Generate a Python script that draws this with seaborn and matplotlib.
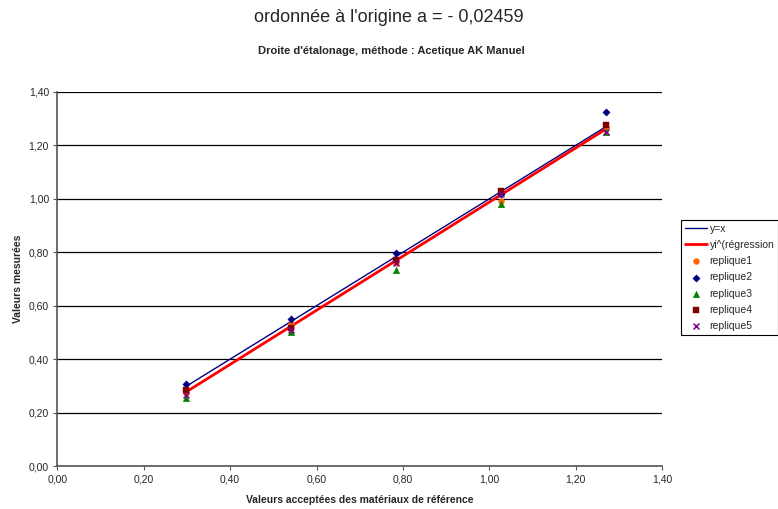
import matplotlib
matplotlib.use("Agg")
import matplotlib.pyplot as plt
import seaborn as sns
import numpy as np
import pandas as pd
from matplotlib.ticker import FuncFormatter, MultipleLocator

# ---- data ----
x_ref = [0.297, 0.540, 0.783, 1.027, 1.270]
replique1 = [0.272, 0.532, 0.761, 0.993, 1.270]
replique2 = [0.306, 0.550, 0.797, 1.020, 1.324]
replique3 = [0.256, 0.500, 0.734, 0.981, 1.249]
replique4 = [0.285, 0.515, 0.772, 1.029, 1.277]
replique5 = [0.266, 0.509, 0.759, 1.017, 1.252]
intercept_a = -0.02459
slope_b = 1.0124
title_text = "ordonnée à l'origine a = - 0,02459"
subtitle_text = "Droite d'étalonage, méthode : Acetique AK Manuel"
xlabel_text = "Valeurs acceptées des matériaux de référence"
ylabel_text = "Valeurs mesurées"

sns.set_theme(style="white")
plt.rcParams['font.family'] = ['Liberation Sans', 'DejaVu Sans']

fig = plt.figure(figsize=(7.78, 5.09), dpi=100)
ax = fig.add_axes([57.4/778, 1-466/509, (662-57.4)/778, (466-92)/509])

xs = np.array(x_ref)
df_lines = pd.DataFrame({"x": xs, "yx": xs, "yreg": slope_b*xs + intercept_a})

sns.lineplot(data=df_lines, x="x", y="yx", ax=ax, color="#000080", lw=1.0, label="y=x", zorder=3)
sns.lineplot(data=df_lines, x="x", y="yreg", ax=ax, color="#FF0000", lw=2.0, label="yi^(régression", zorder=3)

series = [
    ("replique1", replique1, "o", "#FF6600", 18),
    ("replique2", replique2, "D", "#000080", 14),
    ("replique3", replique3, "^", "#008000", 22),
    ("replique4", replique4, "s", "#800000", 20),
]
for name, vals, mk, col, sz in series:
    sns.scatterplot(x=x_ref, y=vals, ax=ax, marker=mk, color=col, s=sz,
                    edgecolor=col, linewidth=0.3, label=name, zorder=4)
sns.scatterplot(x=x_ref, y=replique5, ax=ax, marker="x", color="#800080", s=18,
                linewidth=1.1, label="replique5", zorder=5)

ax.set_xlim(0, 1.4)
ax.set_ylim(0, 1.4)
ax.xaxis.set_major_locator(MultipleLocator(0.2))
ax.yaxis.set_major_locator(MultipleLocator(0.2))
fmt = FuncFormatter(lambda v, p: f"{v:.2f}".replace(".", ","))
ax.xaxis.set_major_formatter(fmt)
ax.yaxis.set_major_formatter(fmt)
ax.yaxis.grid(True, color="black", lw=0.9)
ax.xaxis.grid(False)
ax.set_axisbelow(True)
for s in ["top", "right"]:
    ax.spines[s].set_visible(False)
for s in ["left", "bottom"]:
    ax.spines[s].set_color("#555555")
    ax.spines[s].set_linewidth(1.2)
ax.tick_params(axis="both", which="major", direction="out", length=3, width=0.8,
               color="#555555", labelsize=7.5, bottom=True, left=True, pad=3)

ax.set_xlabel(xlabel_text, fontsize=7.5, fontweight="bold", labelpad=8)
ax.set_ylabel(ylabel_text, fontsize=7.5, fontweight="bold", labelpad=4)

fig.text(389/778, 1-18/509, title_text, ha="center", va="center", fontsize=13)
fig.text(391/778, 1-51/509, subtitle_text, ha="center", va="center", fontsize=8, fontweight="bold")

leg = ax.legend(loc="upper left", bbox_to_anchor=(681/778, 1-220/509), bbox_transform=fig.transFigure,
                fontsize=7.5, frameon=True, fancybox=False, edgecolor="black", framealpha=1,
                handlelength=2.1, borderpad=0.35, labelspacing=0.6, handletextpad=0.3, borderaxespad=0)
leg.get_frame().set_linewidth(0.8)

fig.savefig("out.png", dpi=100)
